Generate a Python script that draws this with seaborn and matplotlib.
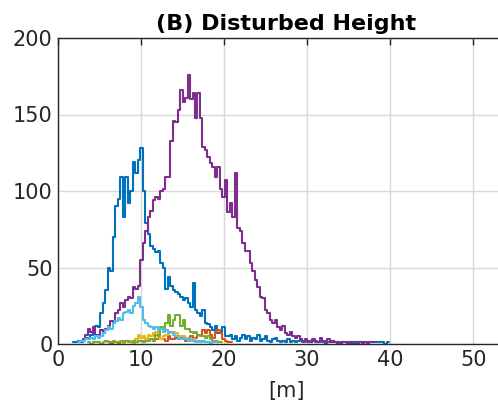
import numpy as np
import pandas as pd
import matplotlib
matplotlib.use("Agg")
import matplotlib.pyplot as plt
import seaborn as sns

# -------------------------------------
# Histogram data (counts per 0.3 m bin)
# -------------------------------------
bin_width = 0.3

blue_start = 1.8
blue_counts = [1, 1, 2, 1, 3, 4, 3, 6, 8, 12, 11, 20, 27, 35, 50, 48, 70, 90, 95,
               109, 83, 109, 92, 100, 119, 112, 120, 128, 100, 79, 72, 64, 62, 60,
               61, 53, 50, 36, 44, 38, 35, 34, 33, 31, 29, 30, 27, 24, 40, 22, 20,
               18, 22, 14, 13, 11, 9, 12, 7, 8, 11, 5, 5, 6, 3, 5, 2, 4, 6, 3, 5, 2,
               4, 3, 6, 2, 3, 5, 2, 1, 3, 4, 2, 1, 2, 1, 3, 1, 2, 1, 2, 3, 1, 2, 1,
               1, 2, 1, 1, 2, 1, 0, 1, 1, 2, 1, 0, 1, 1, 1, 1, 0, 1, 1, 0, 1, 1, 1,
               0, 1, 1, 1, 1, 1, 1, 0, 1]

orange_start = 6.0
orange_counts = [1, 0, 1, 1, 0, 1, 1, 2, 1, 1, 2, 1, 2, 2, 1, 2, 2, 3, 2, 3, 4, 3,
                 3, 2, 5, 3, 3, 4, 3, 4, 3, 2, 3, 5, 3, 4, 6, 5, 9, 7, 9, 6, 4, 8,
                 9, 7, 3, 2, 1, 1]

yellow_start = 7.5
yellow_counts = [1, 0, 2, 1, 1, 0, 3, 6, 4, 5, 3, 6, 5, 7, 8, 4, 3, 5, 6, 7, 8, 8,
                 7, 5, 5, 5, 4, 3, 2, 3, 2, 1, 2, 1]

purple_start = 2.4
purple_counts = [1, 2, 3, 6, 10, 8, 11, 6, 5, 9, 7, 10, 12, 15, 14, 20, 22, 27, 24,
                 29, 31, 30, 37, 36, 38, 55, 66, 74, 83, 87, 94, 96, 95, 100, 101,
                 109, 109, 133, 146, 145, 153, 166, 158, 161, 176, 160, 164, 148,
                 164, 148, 129, 127, 122, 118, 116, 109, 116, 101, 96, 107, 86, 92,
                 83, 112, 76, 74, 66, 61, 61, 53, 48, 42, 37, 31, 30, 22, 20, 16, 14,
                 16, 11, 9, 12, 7, 6, 8, 5, 4, 5, 3, 2, 3, 2, 1, 3, 2, 1, 4, 2, 1, 3,
                 1, 2, 1, 1, 0, 1, 1, 0, 1, 0, 0, 1, 1, 0, 1, 0, 1, 1]

green_start = 3.6
green_counts = [1, 0, 1, 1, 1, 0, 1, 2, 1, 1, 2, 1, 1, 2, 1, 2, 2, 1, 2, 1, 2, 2,
                1, 2, 2, 3, 2, 6, 5, 11, 9, 14, 19, 12, 16, 19, 19, 12, 16, 10, 10,
                8, 7, 8, 6, 5, 5, 4, 5, 3, 2, 2, 1, 1]

lightblue_start = 2.4
lightblue_counts = [1, 2, 2, 3, 3, 4, 3, 5, 4, 5, 7, 9, 11, 10, 14, 15, 17, 16, 20,
                    21, 22, 20, 25, 27, 31, 24, 16, 14, 12, 11, 10, 11, 9, 10, 8, 9,
                    7, 8, 6, 5, 4, 3, 4, 3, 2, 3, 2, 1, 2, 1, 2, 1, 1, 0, 1, 1]

series = [
    ("A", blue_start, blue_counts, "#0072BD"),
    ("B", orange_start, orange_counts, "#D95319"),
    ("C", yellow_start, yellow_counts, "#EDB120"),
    ("D", purple_start, purple_counts, "#7E2F8E"),
    ("E", green_start, green_counts, "#77AC30"),
    ("F", lightblue_start, lightblue_counts, "#4DBEEE"),
]

x_ticks = [0, 10, 20, 30, 40, 50]
y_ticks = [0, 50, 100, 150, 200]

# -------------------------------------
# Style
# -------------------------------------
sns.set_style("white")
plt.rcParams["font.family"] = ["DejaVu Sans"]

fig = plt.figure(figsize=(4.98, 4.13), dpi=100)
ax = fig.add_axes([58 / 498, 69 / 413, 0.917, 306 / 413])

for name, start, counts, color in series:
    centers = start + bin_width * (np.arange(len(counts)) + 0.5)
    df = pd.DataFrame({"x": centers, "w": np.asarray(counts, dtype=float)})
    sns.histplot(
        data=df,
        x="x",
        weights="w",
        binwidth=bin_width,
        binrange=(start, start + bin_width * len(counts)),
        element="step",
        fill=False,
        color=color,
        linewidth=1.5,
        ax=ax,
    )

ax.set_xlim(0, 55)
ax.set_ylim(0, 200)
ax.set_xticks(x_ticks)
ax.set_yticks(y_ticks)
ax.tick_params(axis="both", direction="in", labelsize=15, length=5, width=1,
               top=True, right=True, pad=4, colors="#262626")
ax.grid(True, color="#d9d9d9", linewidth=1)
ax.set_axisbelow(True)
for sp in ax.spines.values():
    sp.set_color("#262626")
    sp.set_linewidth(1)

ax.set_xlabel("[m]", fontsize=15, labelpad=8, color="#262626")
ax.set_ylabel("")
ax.set_title("(B) Disturbed Height", fontsize=16, fontweight="bold", pad=6,
             color="black")

plt.savefig("out.png", dpi=100)
